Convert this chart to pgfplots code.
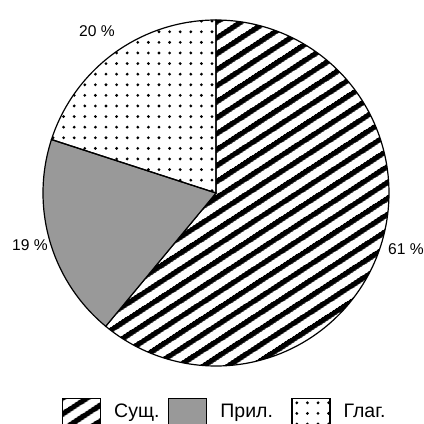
\documentclass[border=0pt]{standalone}
\usepackage{fontspec}
\setmainfont{Liberation Sans}
\usepackage{pgfplots}
\pgfplotsset{compat=1.18}
\usetikzlibrary{patterns.meta}
\definecolor{adjgray}{RGB}{153,153,153}
\begin{document}
\begin{tikzpicture}
\begin{axis}[
  at={(0,0)}, anchor=south west,
  scale only axis, width=424pt, height=424pt,
  xmin=0, xmax=424, ymin=0, ymax=424, y dir=reverse,
  hide axis, clip=false,
  samples=150, variable=t,
  legend columns=3,
  legend cell align=left,
  legend style={draw=none, fill=none, at={(axis cs:62,398)}, anchor=north west,
    font=\fontsize{19.5}{22}\selectfont, inner sep=0pt, outer sep=0pt,
    nodes={inner sep=0pt},
    /tikz/every odd column/.append style={column sep=13pt},
    /tikz/every even column/.append style={column sep=14pt}},
  legend image code/.code={\draw[#1, line width=1.2pt] (0pt,-16pt) rectangle (38pt,13pt);},
]
% Сущ. 61 %  : angles -129.6 .. 90
\addplot[draw=black, line width=1.2pt, pattern={Lines[angle=33, distance=13pt, line width=5.4pt]}, domain=-129.6:90]
  ({216+173*cos(t)}, {193-173*sin(t)}) -- (216,193) -- cycle;
\addlegendentry{\makebox[40pt][l]{Сущ.}}
% Прил. 19 % : angles 162 .. 230.4
\addplot[draw=black, line width=1.2pt, fill=adjgray, domain=162:230.4]
  ({216+173*cos(t)}, {193-173*sin(t)}) -- (216,193) -- cycle;
\addlegendentry{\makebox[57pt][l]{Прил.}}
% Глаг. 20 % : angles 90 .. 162
\addplot[draw=black, line width=1.2pt, pattern={Dots[radius=1.55pt, distance=10.6pt]}, domain=90:162]
  ({216+173*cos(t)}, {193-173*sin(t)}) -- (216,193) -- cycle;
\addlegendentry{\makebox[40pt][l]{Глаг.}}
\node[font=\fontsize{15.6}{18}\selectfont] at (axis cs:97,31) {20 \%};
\node[font=\fontsize{15.6}{18}\selectfont] at (axis cs:30,245) {19 \%};
\node[font=\fontsize{15.6}{18}\selectfont] at (axis cs:406,249) {61 \%};
\end{axis}
\pgfresetboundingbox
\path[use as bounding box] (0,0) rectangle (424pt,424pt);
\end{tikzpicture}
\end{document}
